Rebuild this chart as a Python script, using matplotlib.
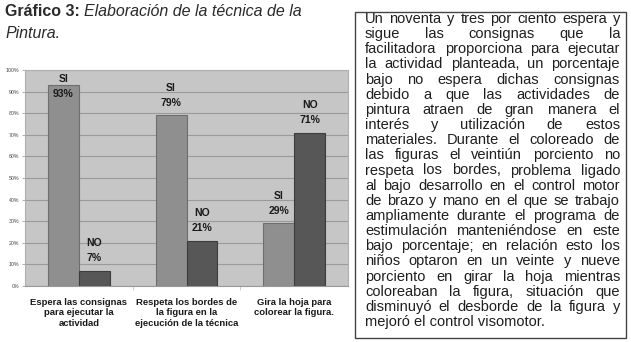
import matplotlib
matplotlib.use("Agg")
import matplotlib.pyplot as plt
import numpy as np
from matplotlib.patches import Rectangle

plt.rcParams['font.family'] = ['Liberation Sans', 'DejaVu Sans']

# datos del gráfico
categorias = ["Espera las consignas\npara ejecutar la\nactividad",
              "Respeta los bordes de\nla figura en la\nejecución de la técnica",
              "Gira la hoja para\ncolorear la figura."]
si_vals = [93, 79, 29]
no_vals = [7, 21, 71]
yticks = list(range(0, 101, 10))

titulo_negrita = "Gráfico 3:"
titulo_cursiva = "Elaboración de la técnica de la"
titulo_linea2 = "Pintura."

parrafo = [
    "Un noventa y tres por ciento espera y",
    "sigue las consignas que la",
    "facilitadora proporciona para ejecutar",
    "la actividad planteada, un porcentaje",
    "bajo no espera dichas consignas",
    "debido a que las actividades de",
    "pintura atraen de gran manera el",
    "interés y utilización de estos",
    "materiales. Durante el coloreado de",
    "las figuras el veintiún porciento no",
    "respeta los bordes, problema ligado",
    "al bajo desarrollo en el control motor",
    "de brazo y mano en el que se trabajo",
    "ampliamente durante el programa de",
    "estimulación manteniéndose en este",
    "bajo porcentaje; en relación esto los",
    "niños optaron en un veinte y nueve",
    "porciento en girar la hoja mientras",
    "coloreaban la figura, situación que",
    "disminuyó el desborde de la figura y",
    "mejoró el control visomotor.",
]

W, H = 631, 342
fig = plt.figure(figsize=(W / 100, H / 100), dpi=100)
fig.patch.set_facecolor("white")

# ejes del gráfico de barras (en pixeles)
ax = fig.add_axes([25 / W, (H - 286) / H, 323 / W, 216 / H])
ax.set_facecolor("#c6c6c6")
x = np.arange(len(categorias))
w = 0.287
b1 = ax.bar(x - w / 2, si_vals, w, color="#8f8f8f", edgecolor="#6e6e6e", linewidth=0.8, zorder=3)
b2 = ax.bar(x + w / 2, no_vals, w, color="#575757", edgecolor="#3c3c3c", linewidth=0.8, zorder=3)

ax.set_xlim(-0.5, 2.5)
ax.set_ylim(0, 100)
ax.set_yticks(yticks)
ax.set_yticklabels([f"{t}%" for t in yticks], fontsize=3.8, color="#444444")
ax.yaxis.grid(True, color="#9a9a9a", linewidth=0.8, zorder=0)
ax.tick_params(axis="y", length=2, width=0.5, color="#888888", pad=2)

ax.set_xticks([0.5, 1.5], minor=False)
ax.set_xticklabels([])
ax.tick_params(axis="x", length=3, width=0.5, color="#bbbbbb")
for sp in ax.spines.values():
    sp.set_color("#b0b0b0")
    sp.set_linewidth(0.8)
ax.spines["bottom"].set_color("#999999")

for i, c in enumerate(categorias):
    ax.text(i, -5.5, c, ha="center", va="top", fontsize=6.8, fontweight="bold",
            color="#1a1a1a", linespacing=1.22, transform=ax.transData)

def etiqueta(xc, v, nombre):
    txt = f"{nombre}\n{v}%"
    if v > 85:
        ax.annotate(txt, (xc, 100), xytext=(0, -3), textcoords="offset points",
                    ha="center", va="top", fontsize=7.5, fontweight="bold",
                    color="#1a1a1a", linespacing=1.6, zorder=5)
    else:
        ax.annotate(txt, (xc, v), xytext=(0, 5.5), textcoords="offset points",
                    ha="center", va="bottom", fontsize=7.5, fontweight="bold",
                    color="#1a1a1a", linespacing=1.6, zorder=5)

for i in range(len(categorias)):
    etiqueta(x[i] - w / 2, si_vals[i], "SI")
    etiqueta(x[i] + w / 2, no_vals[i], "NO")

# título
tfs = 11.5
t1 = fig.text(5 / W, 1 - 11 / H, titulo_negrita + " ", fontsize=tfs, fontweight="bold",
              color="#2a2a2a", va="center", ha="left")
fig.canvas.draw()
r = fig.canvas.get_renderer()
bw = t1.get_window_extent(r).width
fig.text((5 + bw) / W, 1 - 11 / H, titulo_cursiva, fontsize=tfs, style="italic",
         color="#2a2a2a", va="center", ha="left")
fig.text(5 / W, 1 - 33 / H, titulo_linea2, fontsize=tfs, style="italic",
         color="#2a2a2a", va="center", ha="left")

# recuadro de texto
fig.patches.append(Rectangle((355 / W, (H - 338) / H), 271 / W, 326 / H,
                             transform=fig.transFigure, fill=False,
                             edgecolor="#444444", linewidth=1.0))

x0, x1 = 365, 620
y0, dy = 19, 15.15

# tamaño de letra: la línea más llena ocupa casi todo el ancho
prueba = fig.text(0, 0, "al bajo desarrollo en el control motor", fontsize=10)
fs = 0.93 * 10 * (x1 - x0) / prueba.get_window_extent(r).width
prueba.remove()

for k, linea in enumerate(parrafo):
    y = 1 - (y0 + k * dy) / H
    palabras = linea.split()
    if k == len(parrafo) - 1:
        fig.text(x0 / W, y, linea, fontsize=fs, color="#1e1e1e", va="center", ha="left")
        continue
    objs = [fig.text(0, y, p, fontsize=fs, color="#1e1e1e", va="center", ha="left")
            for p in palabras]
    anchos = [o.get_window_extent(r).width for o in objs]
    hueco = (x1 - x0 - sum(anchos)) / (len(palabras) - 1)
    pos = x0
    for o, a in zip(objs, anchos):
        o.set_x(pos / W)
        pos += a + hueco

fig.savefig("out.png", dpi=100)
